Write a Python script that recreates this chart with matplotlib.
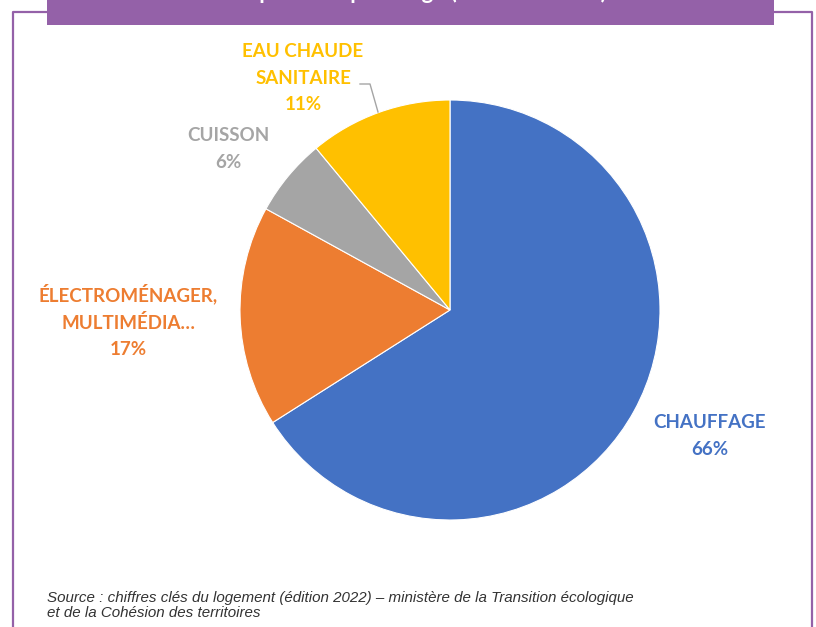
import matplotlib
matplotlib.use("Agg")
import matplotlib.pyplot as plt
from matplotlib.patches import Rectangle

# data
usages = ["CHAUFFAGE", "ÉLECTROMÉNAGER,\nMULTIMÉDIA…", "CUISSON", "EAU CHAUDE\nSANITAIRE"]
parts = [66, 17, 6, 11]
colours = ["#4472C4", "#ED7D31", "#A5A5A5", "#FFC000"]

title = "Répartition par usage (France entière)"
source = ("Source : chiffres clés du logement (édition 2022) – ministère de la Transition écologique\n"
          "et de la Cohésion des territoires")

W, H = 816, 627
purple = "#9461A8"


def Y(py):
    # pixel rows counted from the top -> data y
    return H - py


fig = plt.figure(figsize=(W / 100, H / 100), dpi=100, facecolor="white")
ax = fig.add_axes([0, 0, 1, 1])

# pie, clockwise from 12 o'clock
ax.pie(parts, colors=colours, startangle=90, counterclock=False,
       center=(450, Y(310)), radius=210,
       wedgeprops=dict(edgecolor="white", linewidth=0.8))

# label centres (pixels) for each slice
label_pos = [(710, 436), (128, 321), (228, 149), (303, 78)]
for name, val, col, (px, py) in zip(usages, parts, colours, label_pos):
    ax.text(px, Y(py), f"{name}\n{val}%", color=col, ha="center", va="center",
            fontsize=13.5, fontweight="bold", family=["Lato", "DejaVu Sans"],
            linespacing=1.65)

# leader line for the hot water label
ax.plot([360, 370, 378], [Y(84), Y(84), Y(112)], color="#A5A5A5", lw=1)

# frame and title bar
ax.plot([13, 13, 812, 812], [Y(H + 5), Y(12), Y(12), Y(H + 5)], color=purple, lw=1.6)
ax.add_patch(Rectangle((47, Y(25)), 727, 25, facecolor=purple, edgecolor="none"))
ax.text(420, Y(-1), title, color="white", ha="center", va="baseline",
        fontsize=16, fontweight="bold", family=["Lato", "DejaVu Sans"])

# source note
ax.text(47, Y(591), source, color="#333333", ha="left", va="top", fontsize=10.9,
        style="italic", family=["Liberation Sans", "DejaVu Sans"], linespacing=1.05)

ax.set_xlim(0, W)
ax.set_ylim(0, H)
ax.set_aspect("equal")
ax.axis("off")

plt.savefig("out.png", dpi=100, facecolor="white")
